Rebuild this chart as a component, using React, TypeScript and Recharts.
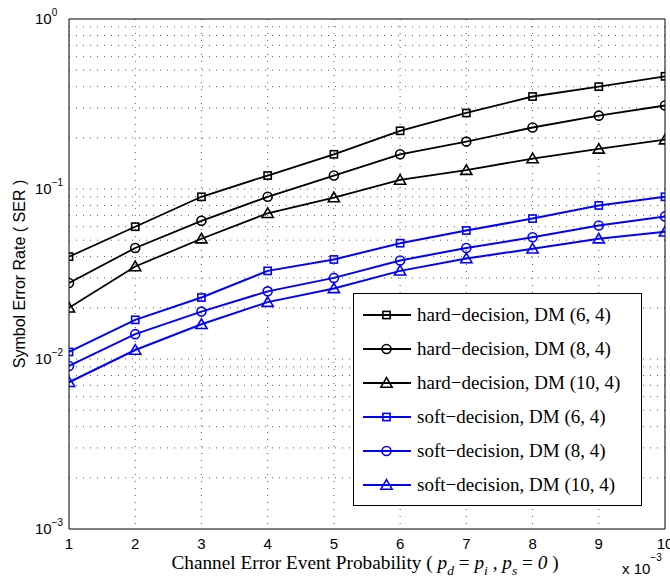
import React from 'react';
import { LineChart, Line, XAxis, YAxis, CartesianGrid, Legend } from 'recharts';

// ---------- data ----------
const xValues = [1, 2, 3, 4, 5, 6, 7, 8, 9, 10];
const hardDM64 = [0.04, 0.06, 0.09, 0.12, 0.16, 0.22, 0.28, 0.35, 0.4, 0.46];
const hardDM84 = [0.028, 0.045, 0.065, 0.09, 0.12, 0.16, 0.19, 0.23, 0.27, 0.31];
const hardDM104 = [0.02, 0.035, 0.051, 0.072, 0.089, 0.113, 0.129, 0.151, 0.172, 0.195];
const softDM64 = [0.011, 0.017, 0.023, 0.033, 0.0385, 0.048, 0.057, 0.067, 0.08, 0.09];
const softDM84 = [0.0091, 0.014, 0.019, 0.025, 0.03, 0.038, 0.045, 0.052, 0.061, 0.069];
const softDM104 = [0.0073, 0.0113, 0.016, 0.0216, 0.026, 0.033, 0.039, 0.0445, 0.051, 0.056];

const seriesNames = [
  'hard\u2212decision, DM (6, 4)',
  'hard\u2212decision, DM (8, 4)',
  'hard\u2212decision, DM (10, 4)',
  'soft\u2212decision, DM (6, 4)',
  'soft\u2212decision, DM (8, 4)',
  'soft\u2212decision, DM (10, 4)',
];

const xTicks = [1, 2, 3, 4, 5, 6, 7, 8, 9, 10];
const xGridValues = [2, 3, 4, 5, 6, 7, 8, 9];
const yMajorTicks = [0.001, 0.01, 0.1, 1];
const yMinorTicks = [
  0.002, 0.003, 0.004, 0.005, 0.006, 0.007, 0.008, 0.009,
  0.02, 0.03, 0.04, 0.05, 0.06, 0.07, 0.08, 0.09,
  0.2, 0.3, 0.4, 0.5, 0.6, 0.7, 0.8, 0.9,
];
const yGridValues = [
  0.002, 0.003, 0.004, 0.005, 0.006, 0.007, 0.008, 0.009, 0.01,
  0.02, 0.03, 0.04, 0.05, 0.06, 0.07, 0.08, 0.09, 0.1,
  0.2, 0.3, 0.4, 0.5, 0.6, 0.7, 0.8, 0.9,
];

const rows = xValues.map((x, i) => ({
  x,
  h64: hardDM64[i],
  h84: hardDM84[i],
  h104: hardDM104[i],
  s64: softDM64[i],
  s84: softDM84[i],
  s104: softDM104[i],
}));

const BLACK = '#000000';
const BLUE = '#0000ff';
const series = [
  { key: 'h64', name: seriesNames[0], color: BLACK, shape: 'square', width: 1.8 },
  { key: 'h84', name: seriesNames[1], color: BLACK, shape: 'circle', width: 1.8 },
  { key: 'h104', name: seriesNames[2], color: BLACK, shape: 'triangle', width: 1.8 },
  { key: 's64', name: seriesNames[3], color: BLUE, shape: 'square', width: 2 },
  { key: 's84', name: seriesNames[4], color: BLUE, shape: 'circle', width: 2 },
  { key: 's104', name: seriesNames[5], color: BLUE, shape: 'triangle', width: 2 },
];

const SANS = '"Liberation Sans", Arial, Helvetica, sans-serif';
const SERIF = '"Liberation Serif", "Times New Roman", Times, serif';

// ---------- markers ----------
function Marker({ shape, cx, cy, color }: { shape: string; cx: number; cy: number; color: string }) {
  const sw = 1.6;
  if (shape === 'square') {
    return <rect x={cx - 3.6} y={cy - 3.6} width={7.2} height={7.2} fill="none" stroke={color} strokeWidth={sw} />;
  }
  if (shape === 'circle') {
    return <circle cx={cx} cy={cy} r={4.5} fill="none" stroke={color} strokeWidth={sw} />;
  }
  const pts = `${cx},${cy - 5.4} ${cx - 5.6},${cy + 4.2} ${cx + 5.6},${cy + 4.2}`;
  return <polygon points={pts} fill="none" stroke={color} strokeWidth={sw} strokeLinejoin="miter" />;
}

const makeDot = (shape: string, color: string) => (props: any) => {
  const { cx, cy, index } = props;
  if (cx == null || cy == null) return <g key={`d-${index}`} />;
  return (
    <g key={`d-${shape}-${color}-${index}`}>
      <Marker shape={shape} cx={cx} cy={cy} color={color} />
    </g>
  );
};

// ---------- ticks & labels ----------
const YTick = (props: any) => {
  const { x, y, payload } = props;
  const exp = Math.round(Math.log10(payload.value));
  const expText = exp < 0 ? `\u2212${-exp}` : `${exp}`;
  return (
    <text x={x - 34} y={y + 5.4} fontSize={15} fontFamily={SANS} fill="#000" textAnchor="start">
      10
      <tspan dy={-8} fontSize={10}>{expText}</tspan>
    </text>
  );
};

const XTick = (props: any) => {
  const { x, y, payload } = props;
  return (
    <text x={x} y={y} dy="0.71em" fontSize={15} fontFamily={SANS} fill="#000" textAnchor="middle">
      {payload.value}
    </text>
  );
};

const XLabel = (props: any) => {
  const vb = props.viewBox || { x: 69, y: 529, width: 596, height: 52 };
  const cx = vb.x + vb.width / 2 - 2;
  const by = vb.y + 39.7;
  const sub = 13.5;
  return (
    <g>
      <text x={cx} y={by} fontSize={19.3} fontFamily={SERIF} fill="#000" textAnchor="middle" style={{ whiteSpace: 'pre' }}>
        <tspan>Channel Error Event Probability ( </tspan>
        <tspan fontStyle="italic">p</tspan>
        <tspan fontStyle="italic" fontSize={sub} dy={6}>d</tspan>
        <tspan dy={-6}> = </tspan>
        <tspan fontStyle="italic">p</tspan>
        <tspan fontStyle="italic" fontSize={sub} dy={6}>i</tspan>
        <tspan dy={-6}> , </tspan>
        <tspan fontStyle="italic">p</tspan>
        <tspan fontStyle="italic" fontSize={sub} dy={6}>s</tspan>
        <tspan dy={-6}> = </tspan>
        <tspan fontStyle="italic">0</tspan>
        <tspan> )</tspan>
      </text>
      <text x={vb.x + vb.width - 43} y={vb.y + 45} fontSize={15} fontFamily={SANS} fill="#000">
        x 10
        <tspan dy={-13} fontSize={10}>{'\u22123'}</tspan>
      </text>
    </g>
  );
};

const YLabel = (props: any) => {
  const vb = props.viewBox || { x: 0, y: 19, width: 69, height: 510 };
  const cy = vb.y + vb.height / 2;
  const bx = 24.5;
  return (
    <text
      x={bx}
      y={cy}
      transform={`rotate(-90, ${bx}, ${cy})`}
      fontSize={16}
      fontFamily={SANS}
      fill="#000"
      textAnchor="middle"
    >
      Symbol Error Rate ( SER )
    </text>
  );
};

// ---------- legend ----------
const LegendBox = () => (
  <div
    style={{
      width: 289,
      height: 213,
      boxSizing: 'border-box',
      border: '1px solid #000',
      background: '#fff',
      position: 'relative',
    }}
  >
    {series.map((s, i) => (
      <div key={s.key} style={{ position: 'absolute', left: 0, top: 4 + i * 34, height: 34, width: 287 }}>
        <svg width={62} height={34} style={{ position: 'absolute', left: 0, top: 0 }}>
          <line x1={9} x2={57} y1={17} y2={17} stroke={s.color} strokeWidth={s.width} />
          <Marker shape={s.shape} cx={32.5} cy={17} color={s.color} />
        </svg>
        <span
          style={{
            position: 'absolute',
            left: 63,
            top: 0,
            height: 34,
            lineHeight: '34px',
            fontFamily: SERIF,
            fontSize: 19,
            color: '#000',
            whiteSpace: 'nowrap',
          }}
        >
          {s.name}
        </span>
      </div>
    ))}
  </div>
);

const GRID = '#555';
const LOG_DOMAIN: [number, number] = [0.001, 1];
const X_DOMAIN: [number, number] = [1, 10];

export default function App() {
  return (
    <div style={{ position: 'absolute', left: 0, top: 0, width: 670, height: 581, background: '#fff' }}>
      <LineChart width={670} height={581} data={rows} margin={{ top: 19, right: 5, bottom: 0, left: 0 }}>
        <CartesianGrid
          xAxisId="x"
          yAxisId="y"
          horizontalValues={yGridValues}
          verticalValues={xGridValues}
          stroke={GRID}
          strokeDasharray="1 6"
          strokeWidth={1}
        />
        <XAxis
          xAxisId="x"
          dataKey="x"
          type="number"
          domain={X_DOMAIN}
          ticks={xTicks}
          allowDataOverflow
          height={52}
          tickLine={false}
          tickSize={0}
          tickMargin={9}
          axisLine={{ stroke: '#000', strokeWidth: 1 }}
          tick={XTick}
          interval={0}
          label={{ content: XLabel }}
        />
        <YAxis
          yAxisId="y"
          scale="log"
          type="number"
          domain={LOG_DOMAIN}
          ticks={yMajorTicks}
          allowDataOverflow
          width={69}
          tickLine={false}
          tickSize={0}
          tickMargin={0}
          axisLine={{ stroke: '#000', strokeWidth: 1 }}
          tick={YTick}
          interval={0}
          label={{ content: YLabel }}
        />
        {/* inward tick marks and box */}
        <XAxis xAxisId="xb" type="number" orientation="bottom" mirror domain={X_DOMAIN} ticks={xTicks} allowDataOverflow height={0.01} tick={false} tickSize={5} axisLine={false} tickLine={{ stroke: '#000' }} interval={0} />
        <XAxis xAxisId="xt" type="number" orientation="top" mirror domain={X_DOMAIN} ticks={xTicks} allowDataOverflow height={0.01} tick={false} tickSize={5} axisLine={{ stroke: '#000' }} tickLine={{ stroke: '#000' }} interval={0} />
        <YAxis yAxisId="yl" scale="log" type="number" orientation="left" mirror domain={LOG_DOMAIN} ticks={yMajorTicks} allowDataOverflow width={0.01} tick={false} tickSize={5} axisLine={false} tickLine={{ stroke: '#000' }} interval={0} />
        <YAxis yAxisId="ylm" scale="log" type="number" orientation="left" mirror domain={LOG_DOMAIN} ticks={yMinorTicks} allowDataOverflow width={0.01} tick={false} tickSize={3} axisLine={false} tickLine={{ stroke: '#000' }} interval={0} />
        <YAxis yAxisId="yr" scale="log" type="number" orientation="right" mirror domain={LOG_DOMAIN} ticks={yMajorTicks} allowDataOverflow width={0.01} tick={false} tickSize={5} axisLine={{ stroke: '#000' }} tickLine={{ stroke: '#000' }} interval={0} />
        <YAxis yAxisId="yrm" scale="log" type="number" orientation="right" mirror domain={LOG_DOMAIN} ticks={yMinorTicks} allowDataOverflow width={0.01} tick={false} tickSize={3} axisLine={false} tickLine={{ stroke: '#000' }} interval={0} />

        {series.map((s) => (
          <Line
            key={s.key}
            xAxisId="x"
            yAxisId="y"
            type="linear"
            dataKey={s.key}
            name={s.name}
            stroke={s.color}
            strokeWidth={s.width}
            dot={makeDot(s.shape, s.color)}
            activeDot={false}
            isAnimationActive={false}
          />
        ))}
        <Legend
          layout="vertical"
          align="center"
          verticalAlign="middle"
          content={LegendBox}
          wrapperStyle={{ left: 353, top: 293, width: 289, height: 213 }}
        />
      </LineChart>
    </div>
  );
}
